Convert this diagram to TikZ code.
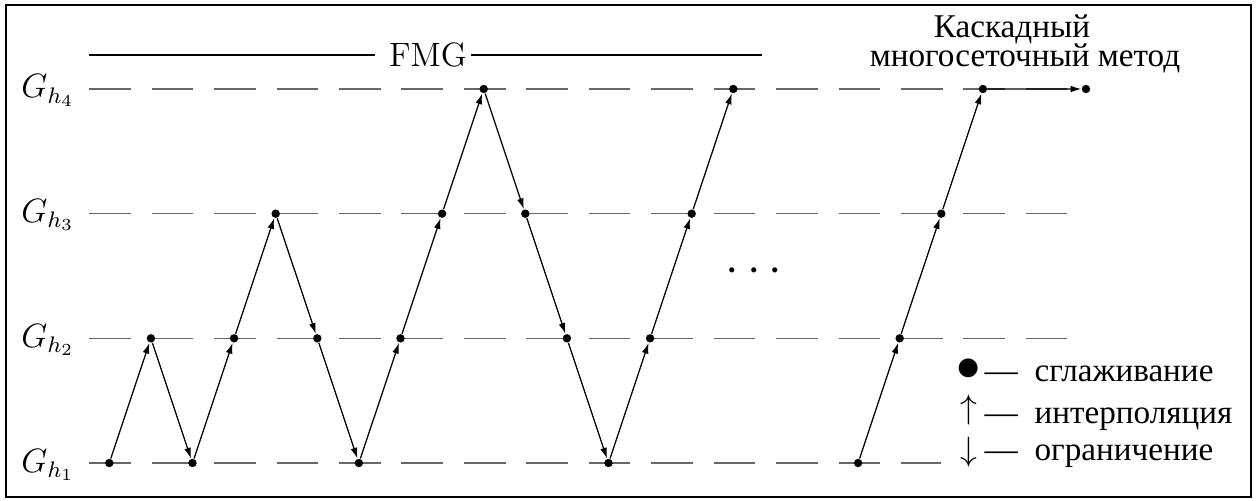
\documentclass[tikz,border=0pt]{standalone}
\usepackage{fontspec}
\newfontfamily\cyrfont{Liberation Serif}
\usetikzlibrary{arrows.meta, positioning}

\tikzset{
  level/.style={black!60, line width=0.5pt, dash pattern=on 14.8pt off 7.4pt},
  dot/.style={circle, fill=black, inner sep=0pt, minimum size=3pt},
  mgarrow/.style={-{Latex[length=3.8pt,width=2.4pt]}, line width=0.45pt},
  cyrtext/.style={font=\fontsize{11.8}{14}\cyrfont, inner sep=0pt},
  legsym/.style={inner sep=0pt, font=\fontsize{13}{15}\selectfont}
}

\begin{document}
\begin{tikzpicture}[x=0.0125cm, y=-0.0125cm]
  \useasboundingbox (0,0) rectangle (1256,501);
  \draw[line width=0.6pt] (6,5) rectangle (1251,497);
  % grid levels
  \foreach \k/\e in {1/941, 2/1067, 3/1067, 4/1067} {
    \coordinate (L\k a) at (89.3, {463-124.67*(\k-1)});
    \coordinate (L\k b) at (\e, {463-124.67*(\k-1)});
    \draw[level] (L\k a) -- (L\k b);
    \node[anchor=base east, inner sep=0pt, font=\fontsize{12}{14}\selectfont] (G\k) at (75, {472-124.67*(\k-1)}) {$G_{h_\k}$};
  }
  % smoothing points
  \foreach \i/\l in {0/1,1/2,2/1,3/2,4/3,5/2,6/1,7/2,8/3,9/4,10/3,11/2,12/1,13/2,14/3,15/4,18/1,19/2,20/3,21/4}
    \node[dot] (p\i) at ({109.3+41.6*\i}, {463-124.67*(\l-1)}) {};
  \node[dot] (pend) at (1086,89) {};
  % FMG
  \foreach \i [count=\j from 1] in {0,...,14}
    \draw[mgarrow] (p\i) -- (p\j);
  % cascade
  \foreach \i [count=\j from 19] in {18,19,20}
    \draw[mgarrow] (p\i) -- (p\j);
  \draw[mgarrow] (p21) -- (pend);
  % dots
  \node[inner sep=0pt, font=\fontsize{19}{19}\selectfont] (etc) at (754,272) {$\cdots$};
  % titles
  \coordinate (fmgA) at (89,55);
  \coordinate (fmgB) at (375,55);
  \coordinate (fmgC) at (471,55);
  \coordinate (fmgD) at (762,55);
  \node[inner sep=0pt, font=\fontsize{12}{14}\selectfont] (fmg) at (428,55) {FMG};
  \draw[line width=0.5pt] (fmgA) -- (fmgB);
  \draw[line width=0.5pt] (fmgC) -- (fmgD);
  \node[cyrtext, anchor=base] (casc1) at (1012,37) {Каскадный};
  \node[cyrtext, anchor=base] (casc2) at (1025,66) {многосеточный метод};
  % legend
  \node[legsym, font=\fontsize{17}{17}\selectfont] (sym1) at (969,370) {$\bullet$};
  \node[legsym] (sym2) at (969,410) {$\uparrow$};
  \node[legsym] (sym3) at (969,452) {$\downarrow$};
  \node[cyrtext, anchor=base west] (leg1) at (984,381) {—\hspace{6pt}сглаживание};
  \node[cyrtext, anchor=base west] (leg2) at (984,423) {—\hspace{6pt}интерполяция};
  \node[cyrtext, anchor=base west] (leg3) at (984,460) {—\hspace{6pt}ограничение};
\end{tikzpicture}
\end{document}
